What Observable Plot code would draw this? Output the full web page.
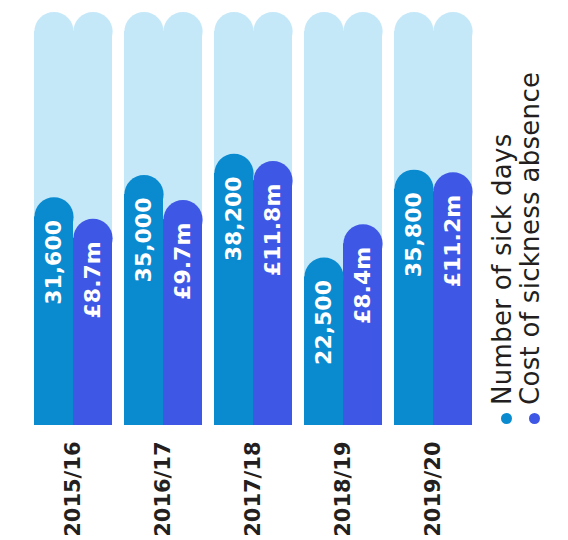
<!DOCTYPE html>
<html>
<head>
<meta charset="utf-8">
<script src="https://cdn.jsdelivr.net/npm/d3@7"></script>
<script src="https://cdn.jsdelivr.net/npm/@observablehq/plot@0.6"></script>
<style>
  html, body { margin: 0; padding: 0; background: #fff; }
  #wrap { position: relative; width: 568px; height: 540px; overflow: hidden; }
  #legend {
    position: absolute; left: 488px; top: 424px;
    transform-origin: 0 0; transform: rotate(-90deg);
    font-family: "DejaVu Sans", sans-serif; font-size: 26px; letter-spacing: 0.3px;
    color: #231f20; white-space: nowrap;
  }
  #legend .row { position: relative; height: 28px; line-height: 28px; }
  #legend .dot { position: absolute; left: 0; top: 13px; width: 11px; height: 11px; border-radius: 50%; }
  #legend .lbl { position: absolute; left: 19px; top: 0; }
</style>
</head>
<body>
<div id="wrap"><div id="chart"></div><div id="legend"></div></div>
<script>
// ---- data ----
const years = ["2015/16", "2016/17", "2017/18", "2018/19", "2019/20"];
const sickDays = [31600, 35000, 38200, 22500, 35800];
const costMillions = [8.7, 9.7, 11.8, 8.4, 11.2];
const seriesKeys = ["days", "cost"];
const seriesNames = ["Number of sick days", "Cost of sickness absence"];
const seriesColors = ["#0a8bd0", "#3e57e5"];
const trackColor = "#c5e8f9";
// value range that a full-height track represents, per series
const daysDomain = [0, 59700];
const costDomain = [-1.38, 19.83];

const fmtDays = d3.format(",");
const rows = [];
years.forEach((year, i) => {
  rows.push({year, series: "days", value: sickDays[i], label: fmtDays(sickDays[i]),
             share: (sickDays[i] - daysDomain[0]) / (daysDomain[1] - daysDomain[0])});
  rows.push({year, series: "cost", value: costMillions[i], label: "£" + costMillions[i] + "m",
             share: (costMillions[i] - costDomain[0]) / (costDomain[1] - costDomain[0])});
});

const capR = 19.6;
const chart = Plot.plot({
  width: 568,
  height: 540,
  marginTop: 31,
  marginBottom: 115,
  marginLeft: 34,
  marginRight: 95,
  style: {fontFamily: "DejaVu Sans, sans-serif", background: "transparent"},
  fx: {domain: years, padding: 0.13, axis: null, label: null},
  x: {domain: seriesKeys, padding: 0, axis: null, label: null},
  y: {domain: [0, 1], axis: null},
  color: {domain: seriesKeys, range: seriesColors},
  marks: [
    Plot.barY(rows, {fx: "year", x: "series", y: () => 1, fill: trackColor}),
    Plot.dot(rows, {fx: "year", x: "series", y: () => 1, r: capR, fill: trackColor}),
    Plot.barY(rows, {fx: "year", x: "series", y: "share", fill: "series"}),
    Plot.dot(rows, {fx: "year", x: "series", y: "share", r: capR, fill: "series"}),
    Plot.text(rows, {fx: "year", x: "series", y: "share", text: "label", rotate: -90,
      textAnchor: "end", lineAnchor: "middle", dy: 3, fill: "white",
      fontWeight: "bold", fontSize: 22}),
    Plot.axisFx({anchor: "bottom", tickRotate: -90, tickSize: 0, tickPadding: 16,
      fontSize: 21, fontWeight: "bold", fill: "#231f20", label: null})
  ]
});
document.getElementById("chart").appendChild(chart);

const legend = d3.select("#legend");
seriesNames.forEach((name, i) => {
  const row = legend.append("div").attr("class", "row");
  row.append("span").attr("class", "dot").style("background", seriesColors[i]);
  row.append("span").attr("class", "lbl").text(name);
});
</script>
</body>
</html>
